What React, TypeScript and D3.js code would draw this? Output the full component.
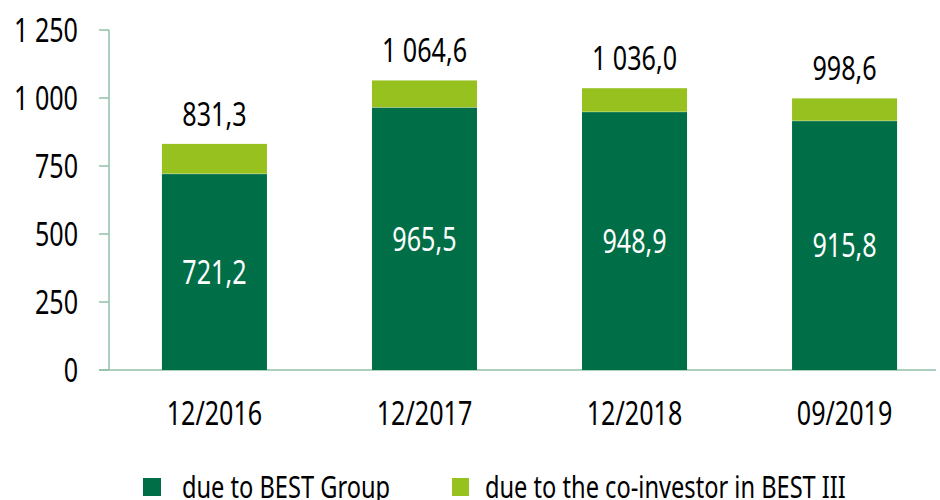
import React from "react";
import * as d3 from "d3";

const categories = ["12/2016", "12/2017", "12/2018", "09/2019"];
const bestGroup = [721.2, 965.5, 948.9, 915.8];
const coInvestor = [110.1, 99.1, 87.1, 82.8];
const totals = ["831,3", "1 064,6", "1 036,0", "998,6"];
const groupLabels = ["721,2", "965,5", "948,9", "915,8"];
const yTicks = [0, 250, 500, 750, 1000, 1250];
const seriesNames = ["due to BEST Group", "due to the co-investor in BEST III"];

const W = 940;
const H = 500;
const DARK = "#006F47";
const LIGHT = "#97C11F";
const AXIS = "#8FC1A9";
const FONT = "'Noto Sans', 'Open Sans', sans-serif";
const SX = 0.75;

const fmt = (v: number) => (v >= 1000 ? d3.format(",")(v).replace(",", " ") : String(v));

type CTProps = { x: number; y: number; anchor?: string; size?: number; fill?: string; children: React.ReactNode };
function CText({ x, y, anchor = "middle", size = 33.5, fill = "#000", children }: CTProps) {
  return (
    <text
      transform={`translate(${x},${y}) scale(${SX},1)`}
      textAnchor={anchor}
      fontFamily={FONT}
      fontSize={size}
      fill={fill}
    >
      {children}
    </text>
  );
}

export default function App() {
  const x = d3.scaleBand<string>().domain(categories).range([109, 950]).paddingInner(0.5).paddingOuter(0.252);
  const y = d3.scaleLinear().domain([0, 1250]).range([370, 30]);
  const bw = x.bandwidth();
  return (
    <svg width={W} height={H} style={{ position: "absolute", left: 0, top: 0, background: "#fff" }}>
      <line x1={109} x2={109} y1={y(1250)} y2={y(0)} stroke={AXIS} strokeWidth={1.5} />
      <line x1={99} x2={936} y1={y(0)} y2={y(0)} stroke={AXIS} strokeWidth={1.5} />
      {yTicks.map((t) => (
        <g key={t}>
          <line x1={99} x2={109} y1={y(t)} y2={y(t)} stroke={AXIS} strokeWidth={1.5} />
          <CText x={78} y={y(t) + 12} anchor="end">{fmt(t)}</CText>
        </g>
      ))}
      {categories.map((c, i) => {
        const x0 = x(c)!;
        const cx = x0 + bw / 2;
        const g = bestGroup[i];
        const tot = g + coInvestor[i];
        return (
          <g key={c}>
            <rect x={x0} width={bw} y={y(g)} height={y(0) - y(g)} fill={DARK} />
            <rect x={x0} width={bw} y={y(tot)} height={y(g) - y(tot)} fill={LIGHT} />
            <line x1={x0} x2={x0 + bw} y1={y(g)} y2={y(g)} stroke="#fff" strokeWidth={0.6} opacity={0.5} />
            <CText x={cx} y={(y(0) + y(g)) / 2 + 12} fill="#fff">{groupLabels[i]}</CText>
            <CText x={cx} y={y(tot) - 18}>{totals[i]}</CText>
            <CText x={cx} y={425}>{c}</CText>
          </g>
        );
      })}
      <rect x={143} y={478} width={18} height={18} fill={DARK} />
      <CText x={182} y={497.5} anchor="start" size={31.5}>{seriesNames[0]}</CText>
      <rect x={452} y={478} width={17} height={18} fill={LIGHT} />
      <CText x={485} y={497.5} anchor="start" size={31.5}>{seriesNames[1]}</CText>
    </svg>
  );
}
